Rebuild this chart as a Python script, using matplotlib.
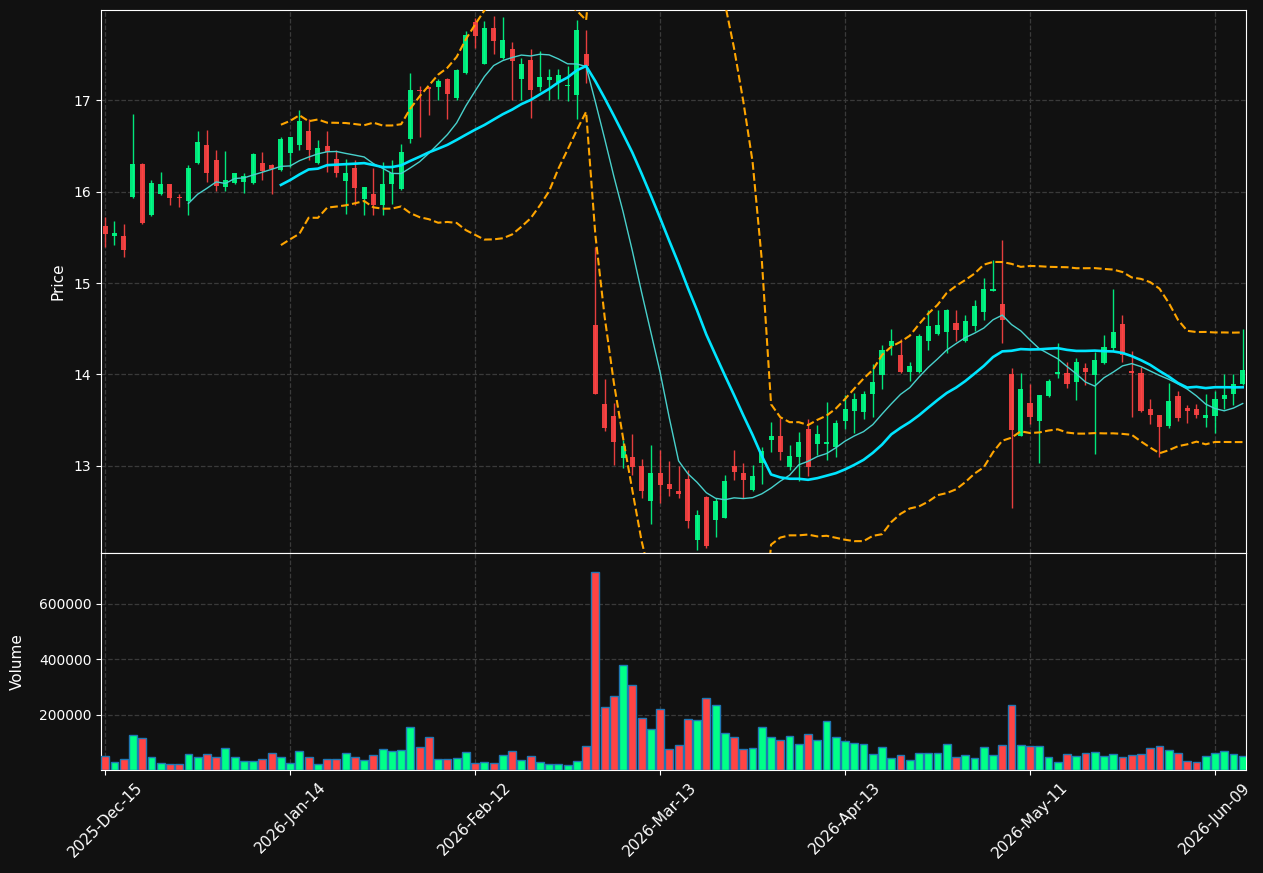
import numpy as np
import pandas as pd
import matplotlib
matplotlib.use('Agg')
import matplotlib.pyplot as plt

# daily bars
opens = [15.63, 15.52, 15.52, 15.94, 16.30, 15.74, 15.98, 16.08, 15.94, 15.90,
         16.31, 16.51, 16.35, 16.05, 16.10, 16.11, 16.10, 16.31, 16.29, 16.24,
         16.42, 16.51, 16.66, 16.31, 16.50, 16.36, 16.12, 16.26, 15.92, 15.98,
         15.85, 16.08, 16.03, 16.58, 17.11, 17.14, 17.15, 17.23, 17.03, 17.30,
         17.86, 17.40, 17.79, 17.46, 17.56, 17.23, 17.44, 17.15, 17.22, 17.20,
         17.16, 17.06, 17.51, 14.54, 13.68, 13.54, 13.08, 13.10, 13.00, 12.61,
         12.92, 12.80, 12.72, 12.85, 12.19, 12.66, 12.41, 12.43, 13.00, 12.92,
         12.73, 13.03, 13.28, 13.33, 12.99, 13.09, 13.40, 13.24, 13.24, 13.20,
         13.49, 13.60, 13.59, 13.78, 13.99, 14.31, 14.21, 14.03, 14.03, 14.37,
         14.44, 14.46, 14.56, 14.37, 14.53, 14.68, 14.91, 14.77, 14.00, 13.33,
         13.69, 13.49, 13.76, 14.00, 14.01, 13.92, 14.07, 13.99, 14.12, 14.29,
         14.55, 14.04, 14.01, 13.62, 13.55, 13.43, 13.76, 13.63, 13.62, 13.52,
         13.54, 13.73, 13.79, 13.89]
highs = [15.72, 15.68, 15.65, 16.85, 16.31, 16.13, 16.22, 16.09, 15.98, 16.29,
         16.66, 16.68, 16.46, 16.45, 16.21, 16.20, 16.42, 16.44, 16.30, 16.60,
         16.60, 16.89, 16.80, 16.57, 16.67, 16.46, 16.36, 16.35, 16.05, 16.26,
         16.33, 16.35, 16.52, 17.30, 17.16, 17.15, 17.23, 17.25, 17.34, 17.76,
         17.90, 17.87, 17.92, 17.91, 17.64, 17.47, 17.56, 17.54, 17.34, 17.34,
         17.38, 17.88, 17.77, 15.40, 13.95, 13.69, 13.28, 13.35, 13.07, 13.23,
         13.17, 13.05, 13.00, 12.95, 12.52, 12.67, 12.65, 12.90, 13.17, 13.03,
         13.01, 13.21, 13.48, 13.52, 13.23, 13.37, 13.51, 13.45, 13.70, 13.50,
         13.77, 13.80, 13.82, 14.11, 14.32, 14.50, 14.39, 14.14, 14.44, 14.71,
         14.70, 14.72, 14.71, 14.65, 14.81, 15.06, 15.25, 15.47, 14.07, 14.01,
         13.90, 13.77, 13.95, 14.34, 14.14, 14.18, 14.12, 14.24, 14.43, 14.94,
         14.65, 14.26, 14.08, 13.73, 13.55, 13.91, 13.82, 13.66, 13.68, 13.79,
         13.82, 14.00, 14.00, 14.50]
lows = [15.40, 15.42, 15.29, 15.93, 15.65, 15.73, 15.96, 15.86, 15.83, 15.75,
        16.30, 16.11, 16.01, 16.01, 16.09, 15.99, 16.09, 16.13, 15.97, 16.23,
        16.27, 16.46, 16.35, 16.30, 16.22, 16.16, 15.76, 15.85, 15.74, 15.75,
        15.75, 15.87, 16.02, 16.53, 16.60, 16.84, 17.00, 16.80, 17.00, 17.29,
        17.57, 17.40, 17.51, 17.45, 17.01, 17.01, 16.81, 17.10, 17.01, 17.02,
        16.99, 16.80, 17.19, 13.79, 13.38, 13.01, 12.98, 12.90, 12.65, 12.36,
        12.59, 12.67, 12.65, 12.32, 12.08, 12.10, 12.22, 12.43, 12.84, 12.65,
        12.72, 12.80, 13.15, 13.06, 12.95, 12.83, 12.89, 13.12, 13.06, 13.09,
        13.40, 13.36, 13.51, 13.53, 13.84, 14.21, 14.02, 13.93, 14.02, 14.27,
        14.43, 14.23, 14.37, 14.36, 14.47, 14.60, 14.91, 14.34, 12.54, 13.33,
        13.46, 13.03, 13.75, 13.96, 13.85, 13.72, 13.88, 13.13, 14.11, 14.26,
        14.14, 13.53, 13.59, 13.46, 13.09, 13.41, 13.49, 13.47, 13.52, 13.42,
        13.36, 13.62, 13.66, 13.88]
closes = [15.54, 15.55, 15.36, 16.30, 15.66, 16.10, 16.09, 15.93, 15.93, 16.26,
          16.55, 16.20, 16.06, 16.13, 16.20, 16.17, 16.41, 16.23, 16.25, 16.58,
          16.60, 16.77, 16.46, 16.48, 16.43, 16.20, 16.20, 16.04, 16.05, 15.85,
          16.09, 16.21, 16.44, 17.11, 17.10, 17.13, 17.21, 17.07, 17.33, 17.72,
          17.71, 17.79, 17.65, 17.66, 17.43, 17.40, 17.11, 17.26, 17.26, 17.28,
          17.17, 17.77, 17.38, 13.79, 13.41, 13.26, 13.22, 12.99, 12.72, 12.92,
          12.79, 12.74, 12.69, 12.39, 12.46, 12.12, 12.61, 12.83, 12.93, 12.84,
          12.89, 13.16, 13.32, 13.15, 13.11, 13.26, 12.99, 13.35, 13.26, 13.47,
          13.62, 13.73, 13.79, 13.92, 14.27, 14.37, 14.03, 14.09, 14.42, 14.53,
          14.54, 14.71, 14.49, 14.58, 14.75, 14.93, 14.94, 14.60, 13.39, 13.84,
          13.53, 13.77, 13.93, 14.03, 13.90, 14.14, 14.03, 14.16, 14.30, 14.46,
          14.21, 14.02, 13.60, 13.55, 13.42, 13.71, 13.52, 13.60, 13.55, 13.56,
          13.73, 13.77, 13.90, 14.05]
volumes = [49000, 28000, 38000, 125000, 114000, 46000, 24000, 20000, 20000, 56000,
           46000, 56000, 46000, 78000, 46000, 31000, 31000, 38000, 60000, 46000,
           24000, 67000, 46000, 20000, 38000, 38000, 60000, 46000, 35000, 53000,
           74000, 67000, 71000, 154000, 82000, 118000, 38000, 38000, 42000, 64000,
           24000, 28000, 24000, 53000, 67000, 35000, 49000, 28000, 20000, 20000,
           17000, 31000, 85000, 712000, 226000, 265000, 377000, 305000, 186000, 147000,
           219000, 74000, 89000, 183000, 179000, 258000, 233000, 132000, 118000, 74000,
           78000, 154000, 118000, 107000, 121000, 92000, 128000, 107000, 175000, 118000,
           103000, 96000, 92000, 56000, 82000, 42000, 53000, 35000, 60000, 60000,
           60000, 92000, 46000, 53000, 42000, 82000, 53000, 89000, 233000, 89000,
           85000, 85000, 46000, 28000, 56000, 49000, 60000, 64000, 49000, 56000,
           46000, 53000, 56000, 78000, 85000, 71000, 60000, 31000, 28000, 49000,
           60000, 67000, 56000, 49000]

holidays = ['2025-12-25', '2026-01-01', '2026-01-19', '2026-02-16',
            '2026-04-03', '2026-05-25']
dates = pd.bdate_range('2025-12-15', periods=len(closes), freq='C',
                       holidays=holidays)

BG = '#111111'
UP = '#00ff88'
DOWN = '#ff4444'


def style_ax(ax):
    ax.set_facecolor(BG)
    for s in ax.spines.values():
        s.set_color('white')
    ax.tick_params(colors='white', labelsize=10)
    ax.grid(True, color='#3a3a3a', linestyle='--', linewidth=0.9)
    ax.set_axisbelow(True)


df = pd.DataFrame({'o': opens, 'h': highs, 'l': lows, 'c': closes,
                   'v': volumes}, index=dates)
x = np.arange(len(df))
up = df['c'] >= df['o']
cols = np.where(up, UP, DOWN)

ma10 = df['c'].rolling(10).mean()
ma20 = df['c'].rolling(20).mean()
sd20 = df['c'].rolling(20).std()
bb_up = ma20 + 2 * sd20
bb_lo = ma20 - 2 * sd20

fig = plt.figure(figsize=(12.63, 8.73), dpi=100, facecolor=BG)
gs = fig.add_gridspec(2, 1, height_ratios=[542, 217], hspace=0,
                      left=0.08, right=0.9865, top=0.9885, bottom=0.118)
ax = fig.add_subplot(gs[0])
axv = fig.add_subplot(gs[1], sharex=ax)
style_ax(ax)
style_ax(axv)

# candles
ax.vlines(x, df['l'], df['h'], colors=cols, linewidth=1, alpha=0.9, zorder=2)
body_lo = np.minimum(df['o'], df['c'])
body_h = np.maximum(np.abs(df['c'] - df['o']), 0.012)
ax.bar(x, body_h, bottom=body_lo, width=0.55, color=cols, alpha=0.9,
       linewidth=0, zorder=3)

ax.plot(x, ma10, color='#48d1cc', linewidth=1.0, zorder=4)
ax.plot(x, ma20, color='#00e5ff', linewidth=1.9, zorder=4)
ax.plot(x, bb_up, color='orange', linestyle='--', linewidth=1.5, zorder=4)
ax.plot(x, bb_lo, color='orange', linestyle='--', linewidth=1.5, zorder=4)

ax.set_ylim(12.047, 17.99)
ax.set_ylabel('Price', color='white', fontsize=11, labelpad=6)
ax.tick_params(axis='x', labelbottom=False)

# volume
axv.bar(x, df['v'], width=0.85, color=cols, edgecolor='#1f77b4',
        linewidth=1, zorder=3)
axv.set_ylim(0, df['v'].max() * 1.1)
axv.set_yticks([200000, 400000, 600000])
axv.set_yticklabels(['200000', '400000', '600000'])
axv.set_ylabel('Volume', color='white', fontsize=11, labelpad=10)

ticks = x[::20]
axv.set_xticks(ticks)
axv.set_xticklabels([d.strftime('%Y-%b-%d') for d in dates[::20]],
                    rotation=45, fontsize=11)
axv.set_xlim(-0.45, len(x) - 0.65)

plt.savefig('out.png', dpi=100, facecolor=BG)
